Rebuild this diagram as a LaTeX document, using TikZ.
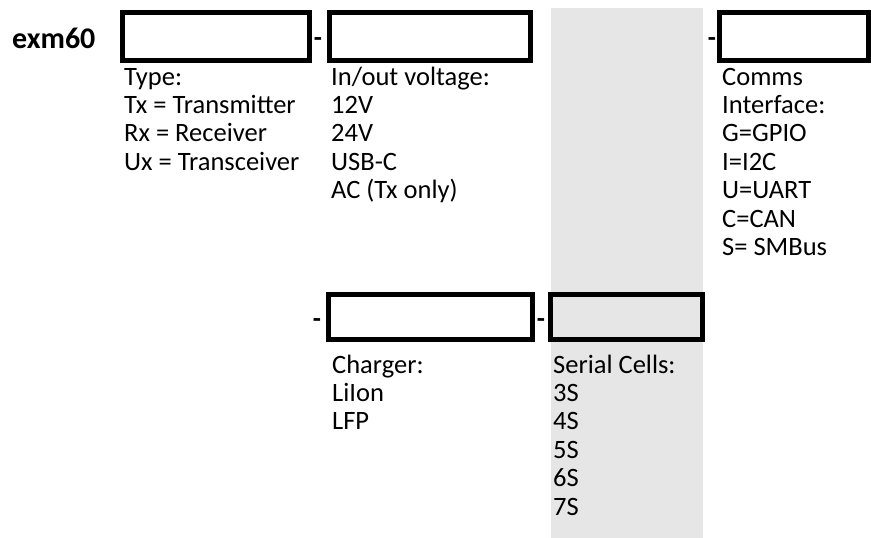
\documentclass[tikz,border=0pt]{standalone}
\usepackage{fontspec}
\setmainfont{Carlito}
\usetikzlibrary{positioning}
\definecolor{cellgray}{HTML}{E7E6E6}

\begin{document}
\begin{tikzpicture}[
    x=1pt, y=-1pt,
    font=\fontsize{26.5}{28.4}\selectfont,
    codebox/.style={draw=black, line width=5pt, inner sep=0pt},
    sep/.style={anchor=base, inner sep=0pt, font=\fontsize{26.5}{28.4}\selectfont\bfseries},
    list/.style={anchor=base west, inner sep=0pt, align=left}
]
\useasboundingbox (0,0) rectangle (871,538);
\fill[cellgray] (551,8) rectangle (703,538);

\node[anchor=base west, inner sep=0pt, font=\fontsize{30}{30}\selectfont\bfseries] (name) at (12,48) {exm60};

% top row of code fields
\node[codebox, minimum width=187pt, minimum height=48pt] (type) at (216,36.5) {};
\node[codebox, minimum width=201pt, minimum height=48pt] (volt) at (430,36.5) {};
\node[codebox, minimum width=149pt, minimum height=48pt] (comms) at (794,36.5) {};
\node[sep] (d1) at (318,46) {-};
\node[sep] (d2) at (712,46) {-};

% lower row of code fields
\node[codebox, minimum width=204pt, minimum height=45pt] (charger) at (430.5,317) {};
\node[codebox, fill=cellgray, minimum width=152pt, minimum height=45pt] (cells) at (626.5,317) {};
\node[sep] (d3) at (317,327) {-};
\node[sep] (d4) at (541,327) {-};

% option lists (anchored at the baseline of their last line)
\node[list] (typelist) at (124,170.2) {Type:\\Tx = Transmitter\\Rx = Receiver\\Ux = Transceiver};
\node[list] (voltlist) at (331,198.6) {In/out voltage:\\12V\\24V\\USB-C\\AC (Tx only)};
\node[list] (commslist) at (722,255.4) {Comms\\Interface:\\G=GPIO\\I=I2C\\U=UART\\C=CAN\\S= SMBus};
\node[list] (chargerlist) at (332,429.8) {Charger:\\LiIon\\LFP};
\node[list] (cellslist) at (553,515) {Serial Cells:\\3S\\4S\\5S\\6S\\7S};
\end{tikzpicture}
\end{document}
